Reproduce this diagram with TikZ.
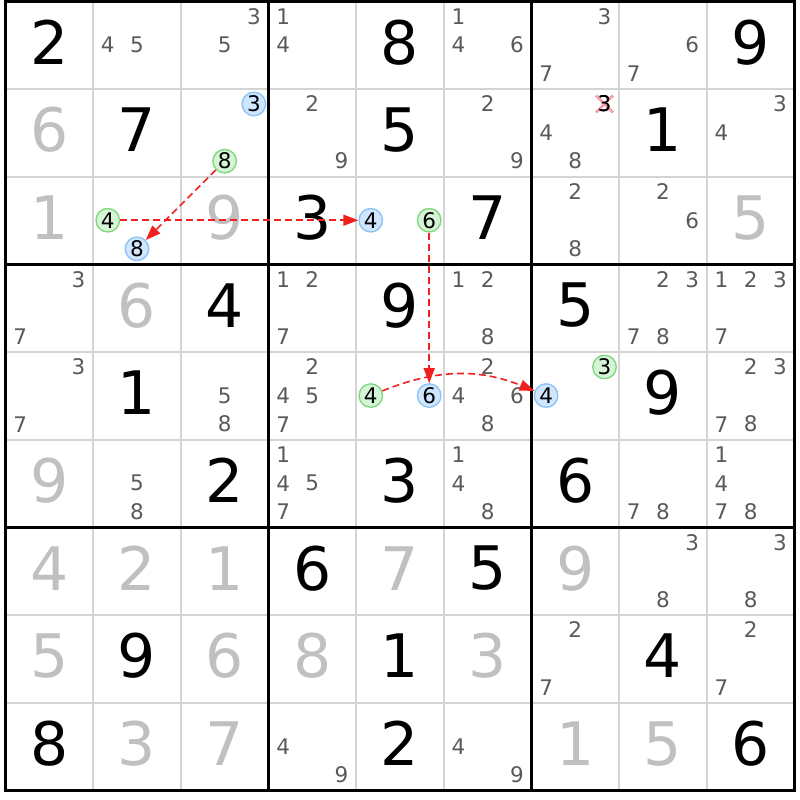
\documentclass[tikz,border=0pt]{standalone}
\usepackage{fontspec}
\setmainfont{DejaVu Sans}
\usetikzlibrary{arrows.meta}
\definecolor{thinc}{HTML}{D4D4D4}
\definecolor{solvedc}{HTML}{C0C0C0}
\definecolor{candc}{HTML}{5A5A5A}
\definecolor{gfill}{HTML}{D6F5D6}
\definecolor{gline}{HTML}{80D880}
\definecolor{bfill}{HTML}{D0E6FF}
\definecolor{bline}{HTML}{8EC4F5}
\definecolor{chainc}{HTML}{F02020}
\definecolor{xmarkc}{HTML}{F5A0A8}
\newcommand\SudCand[4]{%
  \pgfmathsetmacro\xx{5.5+(#2-1)*87.667+14.6+29.22*mod(#3-1,3)}%
  \pgfmathsetmacro\yy{1.5+(#1-1)*87.667+14.8+28.6*floor((#3-1)/3)}%
  \node[#4] (k#1#2#3) at (\xx,\yy) {#3};}
\tikzset{
  bigdig/.style={font=\fontsize{60}{61}\selectfont, inner sep=0pt},
  givend/.style={bigdig, text=black},
  solvedd/.style={bigdig, text=solvedc},
  cand/.style={font=\fontsize{21.5}{22}\selectfont, inner sep=0pt, text=candc},
  gcirc/.style={cand, text=black, circle, draw=gline, fill=gfill, line width=1.4pt, minimum size=23.5pt},
  bcirc/.style={cand, text=black, circle, draw=bline, fill=bfill, line width=1.4pt, minimum size=23.5pt},
  xcand/.style={cand, text=black},
  chainarrow/.style={draw=chainc, line width=1.6pt, dash pattern=on 7pt off 4pt, -{Triangle[length=15pt,width=11pt]}},
  thinline/.style={draw=thinc, line width=1.5pt},
  thickline/.style={draw=black, line width=3pt}
}
\begin{document}
\begin{tikzpicture}[x=1pt,y=-1pt]
\useasboundingbox[fill=white] (0,0) rectangle (800,800);
% thin grid lines
\foreach \i in {1,2,4,5,7,8} {
  \pgfmathsetmacro\px{5.5+\i*87.667}
  \pgfmathsetmacro\py{1.5+\i*87.667}
  \draw[thinline] (\px,1.5) -- (\px,790.5);
  \draw[thinline] (5.5,\py) -- (794.5,\py);
}
% thick grid lines
\foreach \i in {1,2} {
  \pgfmathsetmacro\px{5.5+\i*263}
  \pgfmathsetmacro\py{1.5+\i*263}
  \draw[thickline] (\px,1.5) -- (\px,790.5);
  \draw[thickline] (5.5,\py) -- (794.5,\py);
}
\draw[thickline] (5.5,1.5) rectangle (794.5,790.5);
% given digits
\foreach \r/\c/\d in {1/1/2, 1/5/8, 1/9/9, 2/2/7, 2/5/5, 2/8/1, 3/4/3, 3/6/7, 4/3/4, 4/5/9, 4/7/5, 5/2/1, 5/8/9, 6/3/2, 6/5/3, 6/7/6, 7/4/6, 7/6/5, 8/2/9, 8/5/1, 8/8/4, 9/1/8, 9/5/2, 9/9/6} {
  \pgfmathsetmacro\xx{5.5+(\c-1)*87.667+43.8}
  \pgfmathsetmacro\yy{1.5+(\r-1)*87.667+40.8}
  \node[givend] (d\r\c) at (\xx,\yy) {\d};
}
% solved digits
\foreach \r/\c/\d in {2/1/6, 3/1/1, 3/3/9, 3/9/5, 4/2/6, 6/1/9, 7/1/4, 7/2/2, 7/3/1, 7/5/7, 7/7/9, 8/1/5, 8/3/6, 8/4/8, 8/6/3, 9/2/3, 9/3/7, 9/7/1, 9/8/5} {
  \pgfmathsetmacro\xx{5.5+(\c-1)*87.667+43.8}
  \pgfmathsetmacro\yy{1.5+(\r-1)*87.667+40.8}
  \node[solvedd] (d\r\c) at (\xx,\yy) {\d};
}
% plain candidates
\foreach \r/\c/\lst in {1/2/{4,5}, 1/3/{3,5}, 1/4/{1,4}, 1/6/{1,4,6}, 1/7/{3,7}, 1/8/{6,7},
  2/4/{2,9}, 2/6/{2,9}, 2/7/{4,8}, 2/9/{3,4},
  3/7/{2,8}, 3/8/{2,6},
  4/1/{3,7}, 4/4/{1,2,7}, 4/6/{1,2,8}, 4/8/{2,3,7,8}, 4/9/{1,2,3,7},
  5/1/{3,7}, 5/3/{5,8}, 5/4/{2,4,5,7}, 5/6/{2,4,6,8}, 5/9/{2,3,7,8},
  6/2/{5,8}, 6/4/{1,4,5,7}, 6/6/{1,4,8}, 6/8/{7,8}, 6/9/{1,4,7,8},
  7/8/{3,8}, 7/9/{3,8}, 8/7/{2,7}, 8/9/{2,7}, 9/4/{4,9}, 9/6/{4,9}} {
  \foreach \n in \lst {
    \SudCand{\r}{\c}{\n}{cand}
  }
}
% eliminated candidate
\SudCand{2}{7}{3}{xcand}
\draw[draw=xmarkc, line width=2.6pt] ([shift={(-8.5,-8.5)}]k273.center) -- ([shift={(8.5,8.5)}]k273.center)
  ([shift={(-8.5,8.5)}]k273.center) -- ([shift={(8.5,-8.5)}]k273.center);
\node[xcand] at (k273.center) {3};
% highlighted candidates
\SudCand{2}{3}{3}{bcirc}
\SudCand{2}{3}{8}{gcirc}
\SudCand{3}{2}{4}{gcirc}
\SudCand{3}{2}{8}{bcirc}
\SudCand{3}{5}{4}{bcirc}
\SudCand{3}{5}{6}{gcirc}
\SudCand{5}{5}{4}{gcirc}
\SudCand{5}{5}{6}{bcirc}
\SudCand{5}{7}{3}{gcirc}
\SudCand{5}{7}{4}{bcirc}
% chain
\draw[chainarrow] (k238) -- (k328);
\draw[chainarrow] (k324) -- (k354);
\draw[chainarrow] (k356) -- (k556);
\draw[chainarrow] (k554) to[bend left=22] (k574);
\end{tikzpicture}
\end{document}
